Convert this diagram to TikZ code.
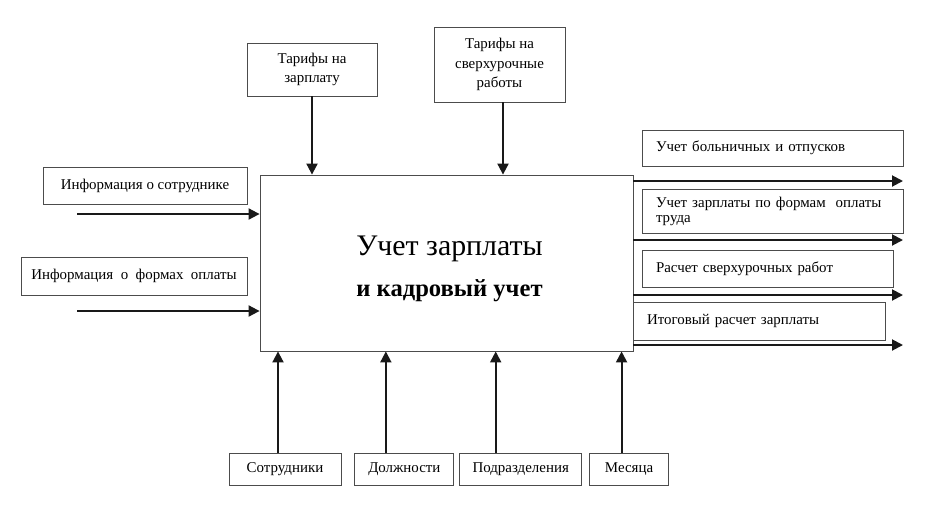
\documentclass[tikz,border=0pt]{standalone}
\usepackage{fontspec}
\setmainfont{LiberationSerif-Regular.ttf}[BoldFont=LiberationSerif-Bold.ttf]
\usetikzlibrary{arrows.meta,positioning,calc}
\tikzset{
  box/.style={draw=black!70, line width=0.5pt, inner sep=0pt, font=\fontsize{8.5}{11}\selectfont, align=center},
  outbox/.style={box, align=left, inner xsep=0.28cm, text width=#1},
  flow/.style={-{Triangle[length=0.22cm,width=0.22cm]}, line width=1.1pt, black!90},
}

\begin{document}
\begin{tikzpicture}[x=0.02cm, y=-0.02cm]
  \useasboundingbox (0,0) rectangle (943,508);
  \node[box, minimum width=7.46cm, minimum height=3.52cm] (main) at (446.5,263) {};
  \node[align=center, inner sep=0pt] (mainlabel) at ($(main.center)+(3,6)$)
    {\fontsize{17}{20}\selectfont Учет зарплаты\\[9pt]\fontsize{14}{17}\selectfont\bfseries и кадровый учет};

  \node[box, minimum width=2.6cm, minimum height=1.06cm] (tp1) at (312,69.5) {Тарифы на\\зарплату};
  \node[box, minimum width=2.62cm, minimum height=1.5cm] (tp2) at (499.5,64.5) {Тарифы на\\сверхурочные\\работы};

  \node[box, minimum width=4.08cm, minimum height=0.74cm] (lb1) at (145,185.5) {Информация о сотруднике};
  \node[box, minimum width=4.52cm, minimum height=0.76cm] (lb2) at (134,276) {Информация\ \ о\ \ формах\ \ оплаты};

  \node[outbox=4.66cm, minimum height=0.72cm] (rb1) at (772.5,148) {Учет больничных и отпусков};
  \node[outbox=4.66cm, minimum height=0.88cm, font=\fontsize{8.5}{8.5}\selectfont] (rb2) at (772.5,211) {Учет зарплаты по формам\ \ оплаты\\труда};
  \node[outbox=4.46cm, minimum height=0.74cm] (rb3) at (767.5,268.5) {Расчет сверхурочных работ};
  \node[outbox=4.48cm, minimum height=0.76cm] (rb4) at (759,321) {Итоговый расчет зарплаты};

  \node[box, minimum width=2.24cm, minimum height=0.64cm] (bb1) at (285,469) {Сотрудники};
  \node[box, minimum width=1.98cm, minimum height=0.64cm, right=0.26cm of bb1] (bb2) {Должности};
  \node[box, minimum width=2.44cm, minimum height=0.64cm, right=0.1cm of bb2] (bb3) {Подразделения};
  \node[box, minimum width=1.58cm, minimum height=0.64cm, right=0.14cm of bb3] (bb4) {Месяца};

  \coordinate (in1) at (77,214);
  \coordinate (in2) at (77,311);
  \coordinate (out1) at (903,181);
  \coordinate (out2) at (903,240);
  \coordinate (out3) at (903,295);
  \coordinate (out4) at (903,345);
  \coordinate (t2) at ($(tp2.south)+(3.5,0)$);
  \coordinate (m1) at ($(bb1.north)+(-7,0)$);
  \coordinate (m2) at ($(bb2.north)+(-18.5,0)$);
  \coordinate (m3) at ($(bb3.north)+(-25,0)$);
  \coordinate (m4) at ($(bb4.north)+(-7.5,0)$);

  \draw[flow] (tp1.south) -- (tp1.south |- main.north);
  \draw[flow] (t2) -- (t2 |- main.north);
  \draw[flow] (in1) -- (in1 -| main.west);
  \draw[flow] (in2) -- (in2 -| main.west);
  \draw[flow] (main.east |- out1) -- (out1);
  \draw[flow] (main.east |- out2) -- (out2);
  \draw[flow] (main.east |- out3) -- (out3);
  \draw[flow] (main.east |- out4) -- (out4);
  \draw[flow] (m1) -- (m1 |- main.south);
  \draw[flow] (m2) -- (m2 |- main.south);
  \draw[flow] (m3) -- (m3 |- main.south);
  \draw[flow] (m4) -- (m4 |- main.south);
\end{tikzpicture}
\end{document}
